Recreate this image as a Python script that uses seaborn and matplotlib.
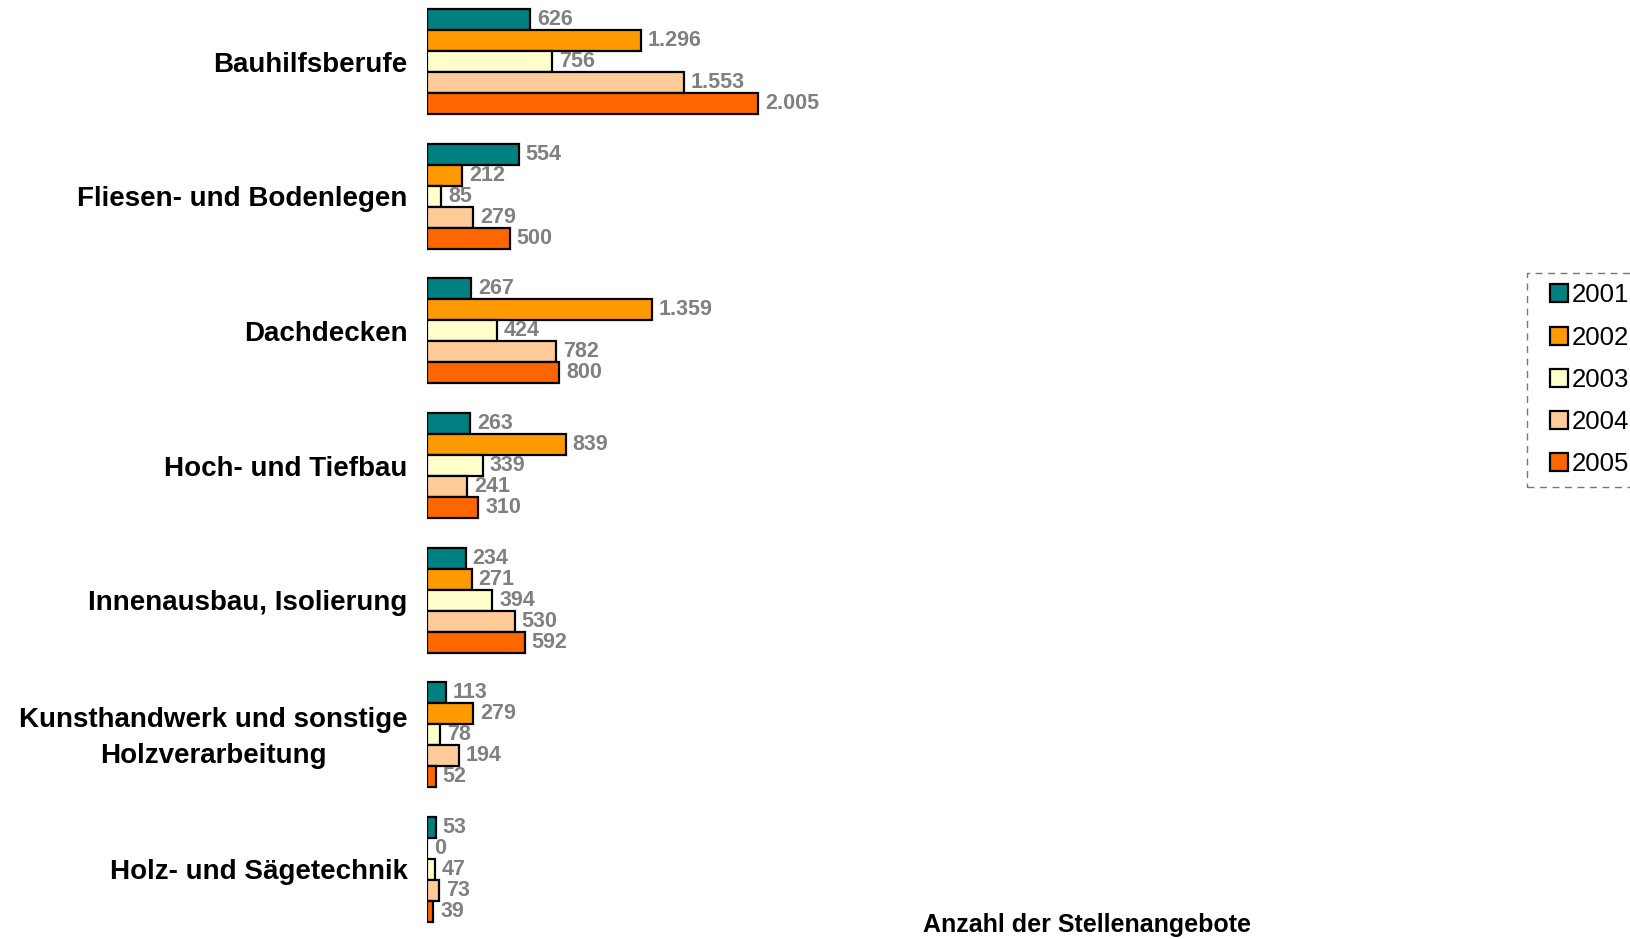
import matplotlib
matplotlib.use("Agg")
import matplotlib.pyplot as plt
import matplotlib.transforms as mtransforms
from matplotlib.patches import Rectangle
from matplotlib.legend_handler import HandlerPatch
import seaborn as sns
import pandas as pd

categories = ["Bauhilfsberufe", "Fliesen- und Bodenlegen", "Dachdecken", "Hoch- und Tiefbau",
              "Innenausbau, Isolierung", "Kunsthandwerk und sonstige\nHolzverarbeitung",
              "Holz- und Sägetechnik"]
years = ["2001", "2002", "2003", "2004", "2005"]
v2001 = [626, 554, 267, 263, 234, 113, 53]
v2002 = [1296, 212, 1359, 839, 271, 279, 0]
v2003 = [756, 85, 424, 339, 394, 78, 47]
v2004 = [1553, 279, 782, 241, 530, 194, 73]
v2005 = [2005, 500, 800, 310, 592, 52, 39]
colors = ["#008080", "#FF9900", "#FFFFCC", "#FFCC99", "#FF6600"]

series = [v2001, v2002, v2003, v2004, v2005]
rows = []
for y, vals in zip(years, series):
    for c, v in zip(categories, vals):
        rows.append({"cat": c, "year": y, "value": v})
df = pd.DataFrame(rows)

sns.set_style("white")
plt.rcParams["font.family"] = ["Liberation Sans", "DejaVu Sans"]
plt.rcParams["text.color"] = "black"
plt.rcParams["axes.labelcolor"] = "black"
plt.rcParams["ytick.color"] = "black"

W, H = 1631, 939
fig = plt.figure(figsize=(W / 100, H / 100), dpi=100)
ax_left = 427 / W
ax_w = 1322 / W
top_px = 61.8 - 0.5 * 134.6
bot_px = 869.2 + 0.5 * 134.6
ax = fig.add_axes([ax_left, 1 - bot_px / H, ax_w, (bot_px - top_px) / H])

sns.barplot(data=df, y="cat", x="value", hue="year", orient="h", order=categories,
            hue_order=years, palette=colors, edgecolor="black", linewidth=1.6,
            width=0.78, gap=0, ax=ax, saturation=1)

def fmt(v):
    return f"{int(v):,}".replace(",", ".")

for cont in ax.containers:
    ax.bar_label(cont, labels=[fmt(b.get_width()) for b in cont], padding=5,
                 color="#808080", fontsize=15.5, fontweight="bold")

ax.set_xlim(0, 8000)
ax.set_ylim(6.5, -0.5)
ax.set_xticks([])
ax.set_xlabel("")
ax.set_ylabel("")
for s in ax.spines.values():
    s.set_visible(False)
ax.tick_params(axis="y", length=0, pad=14)
up = mtransforms.ScaledTranslation(0, 5 / 100, fig.dpi_scale_trans)
for lab in ax.get_yticklabels():
    lab.set_fontsize(20)
    lab.set_fontweight("bold")
    lab.set_color("black")
    lab.set_multialignment("center")
    lab.set_linespacing(1.5)
    if "\n" in lab.get_text():
        lab.set_transform(lab.get_transform() + up)

fig.text(1087 / W, 1 - 925 / H, "Anzahl der Stellenangebote", ha="center", va="center",
         fontsize=18, fontweight="bold", color="black")


def square_patch(legend, orig_handle, xdescent, ydescent, width, height, fontsize):
    return Rectangle((width - height - xdescent, -ydescent), height, height)


handles, labels = ax.get_legend_handles_labels()
if ax.legend_:
    ax.legend_.remove()
leg = ax.legend(handles, labels, loc="upper left", bbox_to_anchor=(1527 / W, 1 - 273 / H),
                bbox_transform=fig.transFigure, fontsize=18.5, frameon=True, fancybox=False,
                handlelength=1.2, handleheight=0.7, handletextpad=0.15, labelspacing=0.71,
                borderpad=0.4, borderaxespad=0,
                handler_map={h: HandlerPatch(patch_func=square_patch) for h in handles})
fr = leg.get_frame()
fr.set_linestyle((0, (5, 4)))
fr.set_edgecolor("#555555")
fr.set_linewidth(1.0)

fig.savefig("out.png", dpi=100)
